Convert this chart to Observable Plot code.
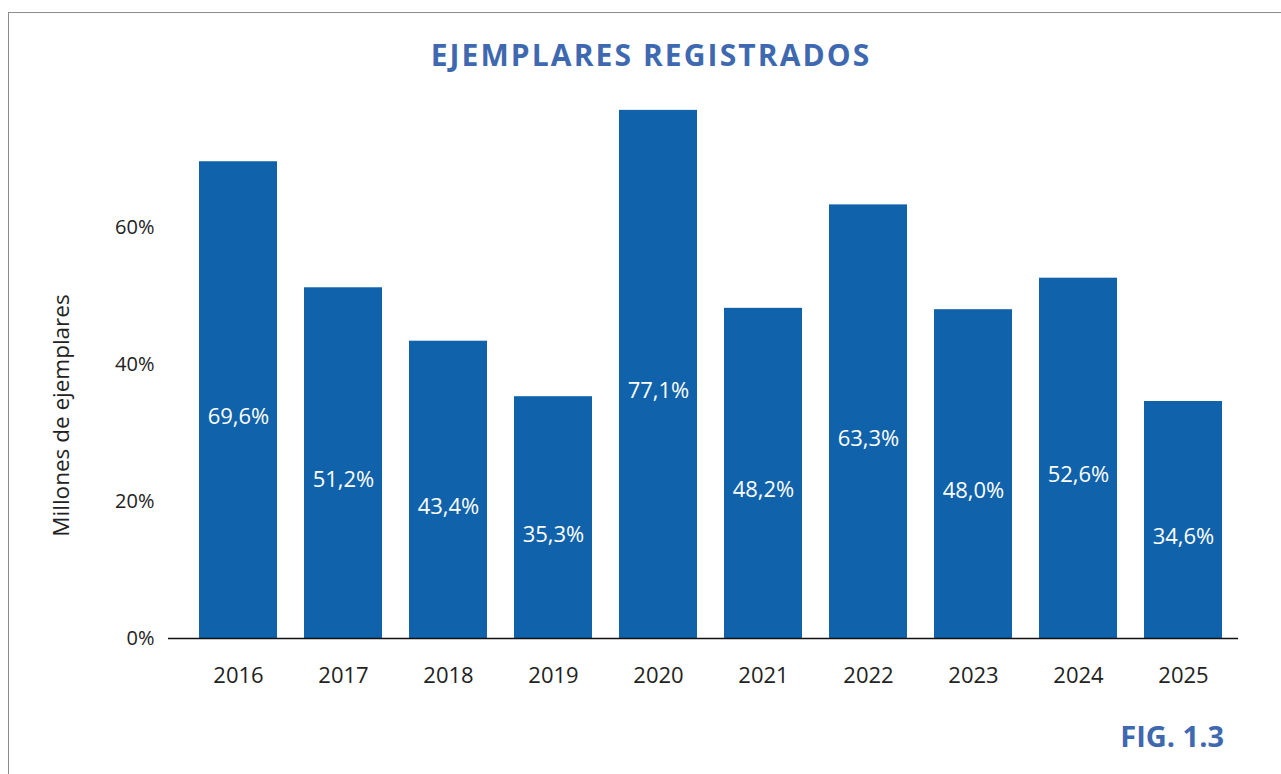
<!DOCTYPE html>
<html><head><meta charset="utf-8">
<script src="https://cdn.jsdelivr.net/npm/d3@7"></script>
<script src="https://cdn.jsdelivr.net/npm/@observablehq/plot@0.6"></script>
<style>
body{margin:0;background:#fff;font-family:"Open Sans",sans-serif;}
#wrap{position:relative;width:1281px;height:774px;overflow:hidden;background:#fff;}
#frame{position:absolute;left:8px;top:12px;width:1400px;height:900px;border-top:1.5px solid #8c8c8c;border-left:1.5px solid #8c8c8c;}
#title{position:absolute;left:0;width:1302px;top:35px;text-align:center;font-weight:700;font-size:30px;letter-spacing:2.1px;color:#3e69b1;line-height:40px;}
#fig{position:absolute;right:57px;top:716px;font-weight:700;font-size:29px;color:#3e69b1;line-height:40px;}
#chart{position:absolute;left:0;top:0;}
</style></head>
<body>
<div id="wrap">
  <div id="frame"></div>
  <div id="chart"></div>
  <div id="title">EJEMPLARES REGISTRADOS</div>
  <div id="fig">FIG. 1.3</div>
</div>
<script>
const years = ["2016","2017","2018","2019","2020","2021","2022","2023","2024","2025"];
const values = [69.6, 51.2, 43.4, 35.3, 77.1, 48.2, 63.3, 48.0, 52.6, 34.6];
const yTicks = [0, 20, 40, 60];
const yTitle = "Millones de ejemplares";

const data = years.map((y, i) => ({year: y, value: values[i], label: values[i].toFixed(1).replace(".", ",") + "%"}));
const font = '"Open Sans", sans-serif';

const chart = Plot.plot({
  width: 1281, height: 774,
  marginTop: 90, marginBottom: 136, marginLeft: 168, marginRight: 43,
  style: {fontFamily: font, color: "#222", background: "transparent", overflow: "visible"},
  x: {domain: years, paddingInner: 0.258, paddingOuter: 0.219, align: 0.65},
  y: {domain: [0, 80]},
  marks: [
    Plot.barY(data, {x: "year", y: "value", fill: "#1062ab"}),
    Plot.ruleY([0], {stroke: "#111", strokeWidth: 1.3}),
    Plot.text(data, {x: "year", y: d => d.value / 2, text: "label", fill: "white", fontSize: 22, dy: 17}),
    Plot.axisX({tickSize: 0, tickPadding: 29, fontSize: 22, label: null}),
    Plot.axisY({ticks: yTicks, tickFormat: d => d + "%", tickSize: 0, tickPadding: 14, fontSize: 20, label: null}),
    Plot.text([yTitle], {frameAnchor: "left", textAnchor: "middle", rotate: -90, dx: -107, dy: 51, fontSize: 22.5, fill: "#222"})
  ]
});
document.getElementById("chart").appendChild(chart);
</script>
</body></html>
